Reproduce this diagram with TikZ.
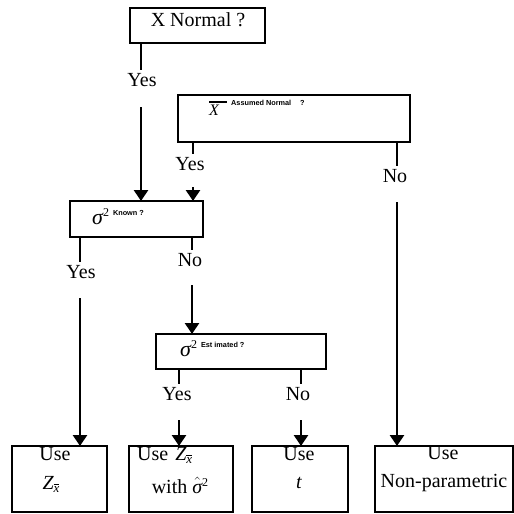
\documentclass[tikz,border=0pt]{standalone}
\usepackage{fontspec}
\setmainfont{Liberation Serif}
\newfontfamily\tinysffam{Liberation Sans}
\usetikzlibrary{arrows.meta}
\newcommand{\tinylab}[1]{{\tinysffam\bfseries\fontsize{7.3}{8}\selectfont #1}}
\newcommand{\xbarsub}{\raisebox{-3pt}{\fontsize{13}{13}\selectfont$\overline{\mbox{\itshape x}}$}}
\begin{document}
\begin{tikzpicture}[x=1pt,y=-1pt,
  qbox/.style={draw, line width=2.4pt, rectangle, inner sep=0pt, outer sep=0pt},
  lbl/.style={font=\fontsize{20}{22}\selectfont, inner sep=3pt, anchor=base},
  txt/.style={font=\fontsize{20}{22}\selectfont, inner sep=0pt, anchor=base},
  conn/.style={line width=2.6pt},
  arr/.style={line width=2.6pt, -{Triangle[width=14pt,length=11pt]}}]
\useasboundingbox (0,0) rectangle (514,514);

% decision boxes
\node[qbox, minimum width=135pt, minimum height=35pt] (q1) at (197.5,25.5) {};
\node[qbox, minimum width=232pt, minimum height=47pt] (q2) at (294,118.5) {};
\node[qbox, minimum width=133pt, minimum height=36pt] (q3) at (136.5,219) {};
\node[qbox, minimum width=170pt, minimum height=35pt] (q4) at (241,351.5) {};
% result boxes
\node[qbox, minimum width=95pt, minimum height=66pt] (r1) at (59.5,479) {};
\node[qbox, minimum width=104pt, minimum height=66pt] (r2) at (181,479) {};
\node[qbox, minimum width=96pt, minimum height=66pt] (r3) at (300,479) {};
\node[qbox, minimum width=138pt, minimum height=66pt] (r4) at (444,479) {};

% box texts
\node[txt] (t1) at (198,27) {X Normal ?};
\node[txt, anchor=base west] (t2) at (209,115) {\fontsize{16}{16}\selectfont\rlap{\itshape X}\raisebox{12.5pt}{\rule{18pt}{1.2pt}}\hspace{4pt}\raisebox{10pt}{\tinylab{Assumed Normal\hspace{9pt}?}}};
\node[txt, anchor=base west] (t3) at (92,224) {{\fontsize{22}{22}\selectfont\itshape σ}\raisebox{8pt}{\fontsize{12}{12}\selectfont 2}\hspace{4pt}\raisebox{9pt}{\tinylab{Known ?}}};
\node[txt, anchor=base west] (t4) at (180,356) {{\fontsize{22}{22}\selectfont\itshape σ}\raisebox{8pt}{\fontsize{12}{12}\selectfont 2}\hspace{4pt}\raisebox{9pt}{\tinylab{Est imated ?}}};

\node[txt] (u1) at (55,460) {Use};
\node[txt] (z1) at (51,489) {{\itshape Z}\xbarsub};
\node[txt, anchor=base west] (u2) at (137,460) {Use\hspace{7pt}{\itshape Z}\xbarsub};
\node[txt] (w2) at (180,493) {with $\hat{\mbox{\itshape σ}}$\raisebox{7pt}{\fontsize{12}{12}\selectfont 2}};
\node[txt] (u3) at (299,460) {Use};
\node[txt] (tt) at (299,488) {\itshape t};
\node[txt] (u4) at (443,459) {Use};
\node[txt] (np) at (444,487) {Non-parametric};

% branch labels
\node[lbl] (l1) at (142,86) {Yes};
\node[lbl] (l2) at (190,170) {Yes};
\node[lbl] (l3) at (395,182) {No};
\node[lbl] (l4) at (81,278) {Yes};
\node[lbl] (l5) at (190,266) {No};
\node[lbl] (l6) at (177,400) {Yes};
\node[lbl] (l7) at (298,400) {No};

% arrow start points
\coordinate (a1) at (141,107);
\coordinate (a2) at (193,187);
\coordinate (a3) at (397,202);
\coordinate (a4) at (80,298);
\coordinate (a5) at (192,285);
\coordinate (a6) at (179,420);
\coordinate (a7) at (301,420);

% connectors
\draw[conn] (q1.south -| a1) -- (l1.north -| a1);
\draw[arr] (a1) -- (a1 |- q3.north);
\draw[conn] (q2.south -| a2) -- (l2.north -| a2);
\draw[arr] (a2) -- (a2 |- q3.north);
\draw[conn] (q2.south -| a3) -- (l3.north -| a3);
\draw[arr] (a3) -- (a3 |- r4.north);
\draw[conn] (q3.south -| a4) -- (l4.north -| a4);
\draw[arr] (a4) -- (a4 |- r1.north);
\draw[conn] (q3.south -| a5) -- (l5.north -| a5);
\draw[arr] (a5) -- (a5 |- q4.north);
\draw[conn] (q4.south -| a6) -- (l6.north -| a6);
\draw[arr] (a6) -- (a6 |- r2.north);
\draw[conn] (q4.south -| a7) -- (l7.north -| a7);
\draw[arr] (a7) -- (a7 |- r3.north);
\end{tikzpicture}
\end{document}
